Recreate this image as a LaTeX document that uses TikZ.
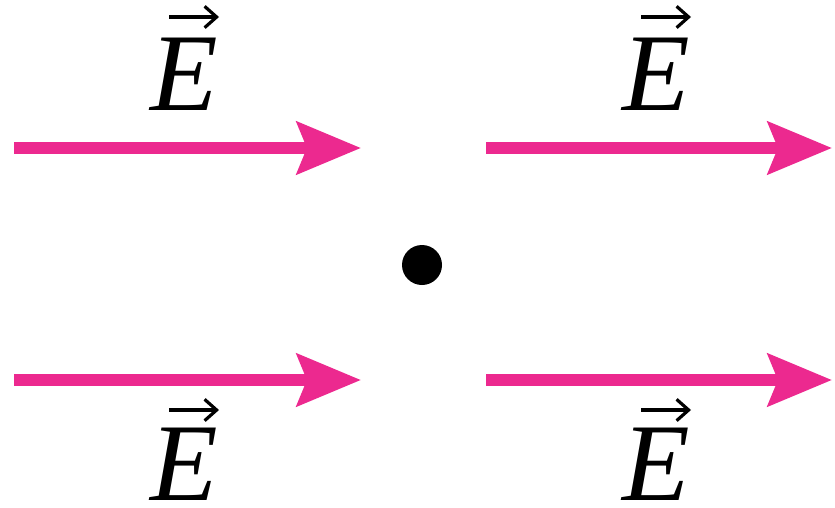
\documentclass[tikz,border=0pt]{standalone}
\usepackage{amsmath,amssymb}
\usepackage{fontspec}
\setmainfont{Liberation Serif}
\usetikzlibrary{arrows.meta}
\definecolor{fieldpink}{RGB}{236,41,143}

\begin{document}
\begin{tikzpicture}[x=0.75pt,y=-0.75pt,
  field/.style={draw=fieldpink, line width=8.5pt, -{Stealth[length=48pt, width=39pt, inset=7.5pt]}},
  vecbar/.style={draw=black, line width=2.4pt, -{Straight Barb[length=9pt, width=16pt]}},
  lab/.style={inner sep=0pt, anchor=base, text depth=0pt, font=\fontsize{83}{96}\selectfont\itshape}]
\useasboundingbox (0,0) rectangle (835,507);
\coordinate (A1) at (14,148);
\coordinate (B1) at (361,148);
\coordinate (A2) at (486,148);
\coordinate (B2) at (832,148);
\coordinate (A3) at (14,380);
\coordinate (B3) at (361,380);
\coordinate (A4) at (486,380);
\coordinate (B4) at (832,380);
\node[circle, fill = black, inner sep=0pt, minimum size=30pt](Q) at (422,265){};
% field labels
\node[lab](E1) at (184,110){E};
\node[lab](E2) at (656,110){E};
\node[lab](E3) at (184,500){E};
\node[lab](E4) at (656,500){E};
\coordinate (V1a) at (169,17);
\coordinate (V1b) at (219,17);
\coordinate (V2a) at (641,17);
\coordinate (V2b) at (691,17);
\coordinate (V3a) at (169,410);
\coordinate (V3b) at (219,410);
\coordinate (V4a) at (641,410);
\coordinate (V4b) at (691,410);
\draw[vecbar] (V1a) -- (V1b);
\draw[vecbar] (V2a) -- (V2b);
\draw[vecbar] (V3a) -- (V3b);
\draw[vecbar] (V4a) -- (V4b);
% field arrows
\draw[field] (A1) -- (B1);
\draw[field] (A2) -- (B2);
\draw[field] (A3) -- (B3);
\draw[field] (A4) -- (B4);
\end{tikzpicture}
\end{document}
